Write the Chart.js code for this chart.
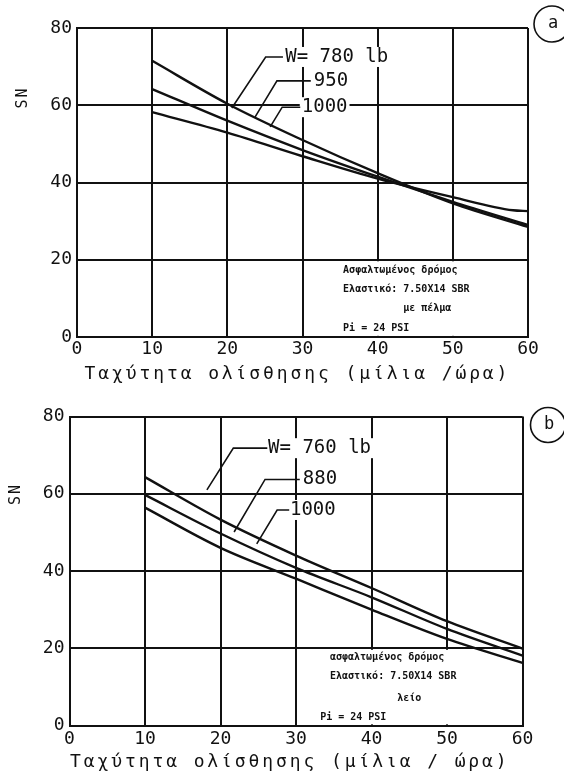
<!DOCTYPE html>
<html>
<head>
<meta charset="utf-8">
<script src="https://cdn.jsdelivr.net/npm/chart.js@4.4.1/dist/chart.umd.min.js"></script>
<style>
html,body{margin:0;padding:0;background:#fff;}
#wrap{position:relative;width:564px;height:775px;overflow:hidden;background:#fff;}
.box{position:absolute;left:0;width:564px;}
</style>
</head>
<body>
<div id="wrap">
  <div class="box" style="top:0;height:390px"><canvas id="ca" width="564" height="390"></canvas></div>
  <div class="box" style="top:390px;height:385px"><canvas id="cb" width="564" height="385"></canvas></div>
</div>
<script>
// ---------- data ----------
const speeds = [10, 20, 30, 40, 50, 60];
const speedsA1000 = [10, 20, 30, 40, 50, 58, 60];
const xTickValues = [0, 10, 20, 30, 40, 50, 60];
const yTickValues = [0, 20, 40, 60, 80];

const weightsA = ['W= 780 lb', '950', '1000'];
const snA780  = [71.5, 60.4, 51.0, 42.4, 34.6, 28.5];
const snA950  = [64.2, 56.0, 48.4, 41.5, 35.0, 29.0];
const snA1000 = [58.2, 52.9, 46.8, 41.0, 36.2, 32.8, 32.6];

const weightsB = ['W= 760 lb', '880', '1000'];
const snB760  = [64.3, 53.3, 44.0, 35.6, 27.0, 19.9];
const snB880  = [59.7, 49.7, 40.8, 33.2, 25.0, 18.1];
const snB1000 = [56.4, 46.0, 38.0, 30.0, 22.4, 16.2];

const xTitleA = 'Ταχύτητα ολίσθησης (μίλια /ώρα)';
const xTitleB = 'Ταχύτητα ολίσθησης (μίλια / ώρα)';
const yTitle = 'SN';
const noteA = ['Ασφαλτωμένος δρόμος', 'Ελαστικό: 7.50Χ14 SBR', 'με πέλμα', 'Pi = 24 PSI'];
const noteB = ['ασφαλτωμένος δρόμος', 'Ελαστικό: 7.50Χ14 SBR', 'λείο', 'Pi = 24 PSI'];
const panelA = 'a';
const panelB = 'b';

const FONT = "'DejaVu Sans Mono', 'Liberation Mono', monospace";
const INK = '#111';

// ---------- overlay plugin (annotations drawn through the scales) ----------
const overlay = {
  id: 'overlay',
  beforeDatasetsDraw(chart, args, o) {
    const {ctx, scales: {x, y}} = chart;
    const b = o.blank;
    ctx.save();
    ctx.fillStyle = '#fff';
    const x0 = x.getPixelForValue(b.x0), x1 = x.getPixelForValue(b.x1);
    const y0 = y.getPixelForValue(b.y0), y1 = y.getPixelForValue(b.y1);
    ctx.fillRect(x0, y1, x1 - x0, y0 - y1);
    ctx.restore();
  },
  afterDatasetsDraw(chart, args, o) {
    const {ctx, scales: {x, y}} = chart;
    const px = v => x.getPixelForValue(v), py = v => y.getPixelForValue(v);
    ctx.save();
    // curve labels with leaders
    ctx.font = '19px ' + FONT;
    ctx.textBaseline = 'middle';
    ctx.textAlign = 'left';
    o.leaders.forEach(l => {
      const w = ctx.measureText(l.text).width;
      const tx = px(l.tx), ty = py(l.ty);
      ctx.fillStyle = '#fff';
      ctx.fillRect(tx - 2, ty - 10, w + 4, 20);
      ctx.fillStyle = INK;
      ctx.fillText(l.text, tx, ty);
      ctx.strokeStyle = INK;
      ctx.lineWidth = 1.6;
      ctx.beginPath();
      l.path.forEach((p, i) => {
        if (i === 0) ctx.moveTo(px(p[0]), py(p[1])); else ctx.lineTo(px(p[0]), py(p[1]));
      });
      ctx.stroke();
    });
    // condition notes
    ctx.font = 'bold 10px ' + FONT;
    ctx.fillStyle = INK;
    o.notes.forEach(n => ctx.fillText(n.text, px(n.x), py(n.y)));
    // y title
    ctx.save();
    ctx.translate(o.sn.x, o.sn.y);
    ctx.rotate(-Math.PI / 2);
    ctx.font = '15px ' + FONT;
    ctx.letterSpacing = '2px';
    ctx.textAlign = 'center';
    ctx.fillText(yTitle, 0, 0);
    ctx.restore();
    // x title
    ctx.font = '18px ' + FONT;
    ctx.letterSpacing = '2.9px';
    ctx.textAlign = 'left';
    ctx.fillText(o.title.text, o.title.x, o.title.y);
    ctx.letterSpacing = '0px';
    // panel circle
    ctx.beginPath();
    ctx.lineWidth = 1.6;
    ctx.strokeStyle = INK;
    ctx.arc(o.panel.x, o.panel.y, o.panel.r, 0, Math.PI * 2);
    ctx.stroke();
    ctx.font = '17px ' + FONT;
    ctx.textAlign = 'center';
    ctx.fillText(o.panel.text, o.panel.x + 1, o.panel.y);
    ctx.restore();
  }
};

function buildChart(id, series, geo, ov) {
  return new Chart(document.getElementById(id), {
    type: 'line',
    data: {
      datasets: series.map(s => ({
        label: s.label,
        data: s.x.map((xv, i) => ({x: xv, y: s.y[i]})),
        borderColor: INK, borderWidth: 2.4, pointRadius: 0, fill: false,
        cubicInterpolationMode: 'monotone'
      }))
    },
    options: {
      responsive: false, animation: false,
      layout: {padding: {left: 0, top: geo.top, right: geo.right, bottom: 0}},
      plugins: {legend: {display: false}, tooltip: {enabled: false}, overlay: ov},
      scales: {
        x: {
          type: 'linear', min: 0, max: 60,
          afterFit: s => { s.height = geo.xh; },
          afterBuildTicks: s => { s.ticks = xTickValues.map(v => ({value: v})); },
          grid: {color: INK, lineWidth: 2, drawTicks: false},
          border: {color: INK, width: 2},
          ticks: {color: INK, font: {family: FONT, size: 18}, padding: geo.xpad, maxRotation: 0, autoSkip: false}
        },
        y: {
          type: 'linear', min: 0, max: 80,
          afterFit: s => { s.width = geo.yw; },
          afterBuildTicks: s => { s.ticks = yTickValues.map(v => ({value: v})); },
          grid: {color: INK, lineWidth: 2, drawTicks: false},
          border: {color: INK, width: 2},
          ticks: {color: INK, font: {family: FONT, size: 18}, padding: geo.ypad, autoSkip: false}
        }
      }
    },
    plugins: [overlay]
  });
}

buildChart('ca', [
  {label: weightsA[0], x: speeds, y: snA780},
  {label: weightsA[1], x: speeds, y: snA950},
  {label: weightsA[2], x: speedsA1000, y: snA1000}
], {top: 28, right: 36, xh: 53, yw: 77, xpad: 2, ypad: 5}, {
  blank: {x0: 35.5, x1: 59.7, y0: 0.3, y1: 19.6},
  leaders: [
    {text: weightsA[0], tx: 27.7, ty: 72.5, path: [[20.6, 59.3], [25.1, 72.5], [27.4, 72.5]]},
    {text: weightsA[1], tx: 31.5, ty: 66.3, path: [[23.7, 57.0], [26.6, 66.3], [31.1, 66.3]]},
    {text: weightsA[2], tx: 29.9, ty: 59.5, path: [[25.7, 54.4], [27.3, 59.5], [29.7, 59.5]]}
  ],
  notes: [
    {text: noteA[0], x: 35.4, y: 17.3},
    {text: noteA[1], x: 35.4, y: 12.2},
    {text: noteA[2], x: 43.4, y: 7.5},
    {text: noteA[3], x: 35.4, y: 2.3}
  ],
  sn: {x: 23, y: 97.5},
  title: {text: xTitleA, x: 84.5, y: 374},
  panel: {text: panelA, x: 552, y: 24, r: 18}
});

buildChart('cb', [
  {label: weightsB[0], x: speeds, y: snB760},
  {label: weightsB[1], x: speeds, y: snB880},
  {label: weightsB[2], x: speeds, y: snB1000}
], {top: 26.5, right: 41.5, xh: 49.5, yw: 69.5, xpad: 3.5, ypad: 5}, {
  blank: {x0: 33.0, x1: 59.7, y0: 0.3, y1: 19.6},
  leaders: [
    {text: weightsB[0], tx: 26.3, ty: 71.8, path: [[18.2, 61.0], [21.7, 71.8], [26.2, 71.8]]},
    {text: weightsB[1], tx: 30.9, ty: 63.7, path: [[21.8, 50.1], [25.9, 63.7], [30.5, 63.7]]},
    {text: weightsB[2], tx: 29.2, ty: 55.8, path: [[24.8, 47.0], [27.5, 55.8], [29.1, 55.8]]}
  ],
  notes: [
    {text: noteB[0], x: 34.5, y: 17.7},
    {text: noteB[1], x: 34.5, y: 12.6},
    {text: noteB[2], x: 43.4, y: 7.1},
    {text: noteB[3], x: 33.2, y: 2.2}
  ],
  sn: {x: 16.5, y: 104},
  title: {text: xTitleB, x: 70, y: 372},
  panel: {text: panelB, x: 548, y: 35, r: 17.5}
});
</script>
</body>
</html>
